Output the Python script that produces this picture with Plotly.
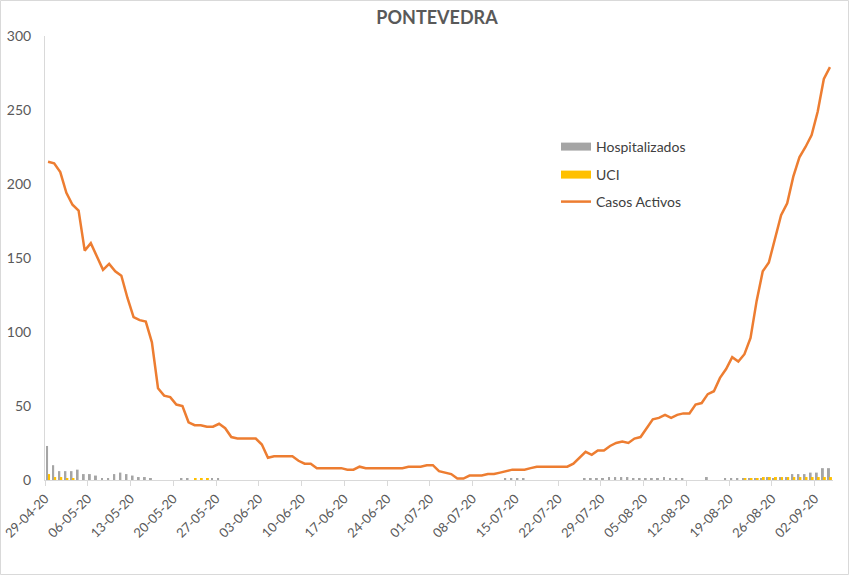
import pandas as pd
import plotly.graph_objects as go

start_date = "2020-04-29"
n_days = 129
dates = pd.date_range(start_date, periods=n_days, freq="D")

casos_activos = [
    215, 214, 208, 194, 186, 182, 155, 160, 151, 142,
    146, 141, 138, 123, 110, 108, 107, 93, 62, 57,
    56, 51, 50, 39, 37, 37, 36, 36, 38, 35,
    29, 28, 28, 28, 28, 24, 15, 16, 16, 16,
    16, 13, 11, 11, 8, 8, 8, 8, 8, 7,
    7, 9, 8, 8, 8, 8, 8, 8, 8, 9,
    9, 9, 10, 10, 6, 5, 4, 1, 1, 3,
    3, 3, 4, 4, 5, 6, 7, 7, 7, 8,
    9, 9, 9, 9, 9, 9, 11, 15, 19, 17,
    20, 20, 23, 25, 26, 25, 28, 29, 35, 41,
    42, 44, 42, 44, 45, 45, 51, 52, 58, 60,
    69, 75, 83, 80, 85, 96, 121, 141, 147, 163,
    179, 187, 205, 218, 225, 233, 249, 271, 279,
]

hospitalizados = [
    23, 10, 6, 6, 6, 7, 4, 4, 3, 1,
    1, 4, 5, 4, 3, 2, 2, 1, 0, 0,
    0, 0, 1, 1, 0, 0, 0, 1, 1, 0,
    0, 0, 0, 0, 0, 0, 0, 0, 0, 0,
    0, 0, 0, 0, 0, 0, 0, 0, 0, 0,
    0, 0, 0, 0, 0, 0, 0, 0, 0, 0,
    0, 0, 0, 0, 0, 0, 0, 0, 0, 0,
    0, 0, 0, 0, 0, 1, 1, 1, 1, 0,
    0, 0, 0, 0, 0, 0, 0, 0, 1, 1,
    1, 1, 2, 2, 2, 2, 1, 1, 1, 1,
    1, 2, 1, 1, 1, 0, 0, 0, 2, 0,
    0, 1, 1, 1, 1, 1, 1, 1, 2, 1,
    2, 2, 4, 4, 4, 5, 5, 8, 8,
]

uci = [
    4, 2, 2, 1, 1, 0, 0, 0, 0, 0,
    0, 0, 0, 0, 0, 0, 0, 0, 0, 0,
    0, 0, 0, 0, 1, 1, 1, 0, 0, 0,
    0, 0, 0, 0, 0, 0, 0, 0, 0, 0,
    0, 0, 0, 0, 0, 0, 0, 0, 0, 0,
    0, 0, 0, 0, 0, 0, 0, 0, 0, 0,
    0, 0, 0, 0, 0, 0, 0, 0, 0, 0,
    0, 0, 0, 0, 0, 0, 0, 0, 0, 0,
    0, 0, 0, 0, 0, 0, 0, 0, 0, 0,
    0, 0, 0, 0, 0, 0, 0, 0, 0, 0,
    0, 0, 0, 0, 0, 0, 0, 0, 0, 0,
    0, 0, 0, 0, 1, 1, 1, 2, 2, 2,
    2, 2, 2, 2, 2, 2, 2, 2, 2,
]

tick_dates = pd.date_range(start_date, "2020-09-02", freq="7D")
tick_labels = [d.strftime("%d-%m-%y") for d in tick_dates]

# each day's mark sits in the middle of its day slot
x_pos = dates + pd.Timedelta(hours=12)

FONT = "Lato, 'Open Sans', sans-serif"
GREY_TXT = "#595959"
C_HOSP, C_UCI, C_CASOS = "#a5a5a5", "#ffc000", "#ed7d31"

W, H = 849, 575
ML, MR, MT, MB = 45, 16, 36, 95
PW, PH = W - ML - MR, H - MT - MB

fig = go.Figure()
fig.add_trace(go.Bar(x=x_pos, y=hospitalizados, name="Hospitalizados",
                     marker=dict(color=C_HOSP, line=dict(width=0)),
                     showlegend=False))
fig.add_trace(go.Bar(x=x_pos, y=uci, name="UCI",
                     marker=dict(color=C_UCI, line=dict(width=0)),
                     showlegend=False))
fig.add_trace(go.Scatter(x=x_pos, y=casos_activos, name="Casos Activos",
                         mode="lines", line=dict(color=C_CASOS, width=2.5),
                         legend="legend3"))
# legend-only entries drawn as wide swatches, like the reference
fig.add_trace(go.Scatter(x=[None], y=[None], name="Hospitalizados", mode="lines",
                         line=dict(color=C_HOSP, width=8), legend="legend"))
fig.add_trace(go.Scatter(x=[None], y=[None], name="UCI", mode="lines",
                         line=dict(color=C_UCI, width=8), legend="legend2"))

leg_common = dict(font=dict(family=FONT, size=14, color="#404040"),
                  bgcolor="rgba(0,0,0,0)", xanchor="left", yanchor="middle",
                  x=(556 - ML) / PW, itemwidth=30)

def ly(py):
    return (H - MB - py) / PH

fig.update_layout(
    width=W, height=H,
    margin=dict(l=ML, r=MR, t=MT, b=MB),
    paper_bgcolor="white", plot_bgcolor="white",
    showlegend=True,
    barmode="group", bargap=0.35, bargroupgap=0,
    title=dict(text="<b>PONTEVEDRA</b>", x=437 / W, xanchor="center",
               y=1 - 18 / H, yanchor="middle",
               font=dict(family=FONT, size=18, color=GREY_TXT)),
    legend=dict(**leg_common, y=ly(147)),
    legend2=dict(**leg_common, y=ly(175)),
    legend3=dict(**leg_common, y=ly(202)),
    xaxis=dict(type="date", range=[dates[0], dates[-1] + pd.Timedelta(days=1)],
               tickvals=tick_dates, ticktext=tick_labels, tickangle=-45,
               tickfont=dict(family=FONT, size=13, color=GREY_TXT),
               showgrid=False, zeroline=False, automargin=False,
               showline=True, linecolor="#d9d9d9", linewidth=1,
               ticks="outside", ticklen=5, tickcolor="#d9d9d9"),
    yaxis=dict(range=[0, 300], dtick=50,
               tickfont=dict(family=FONT, size=14, color=GREY_TXT),
               showgrid=False, zeroline=False, automargin=False,
               showline=True, linecolor="#d9d9d9", linewidth=1,
               ticks="", ticklabelstandoff=10),
    shapes=[dict(type="rect", xref="paper", yref="paper",
                 x0=(-ML + 0.5) / PW, x1=1 + (MR - 0.5) / PW,
                 y0=(-MB + 0.5) / PH, y1=1 + (MT - 0.5) / PH,
                 line=dict(color="#d9d9d9", width=1), fillcolor="rgba(0,0,0,0)")],
)

fig.write_html("out.html")
